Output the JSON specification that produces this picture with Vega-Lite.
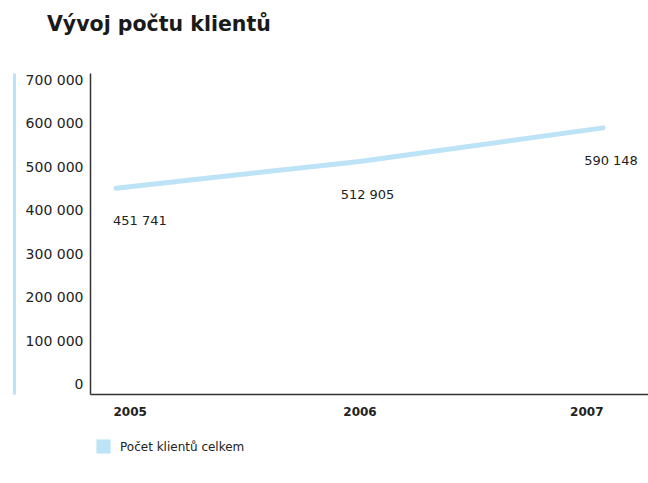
{
  "$schema": "https://vega.github.io/schema/vega-lite/v6.json",
  "width": 558,
  "height": 321,
  "autosize": {"type": "none"},
  "padding": {"left": 90, "top": 73, "right": 0, "bottom": 89},
  "config": {
    "locale": {"number": {"decimal": ",", "thousands": " ", "grouping": [3], "currency": ["", " Kč"]}},
    "view": {"stroke": null},
    "font": "DejaVu Sans"
  },
  "title": {
    "text": "Vývoj počtu klientů",
    "anchor": "start",
    "frame": "group",
    "dx": -43,
    "offset": 38,
    "fontSize": 20.5,
    "fontWeight": "bold",
    "color": "#1a1a1a",
    "font": "DejaVu Sans"
  },
  "data": {
    "values": [
      {"year": 2005, "clients": 451741},
      {"year": 2006, "clients": 512905},
      {"year": 2007, "clients": 590148}
    ]
  },
  "resolve": {"axis": {"y": "independent"}},
  "layer": [
    {
      "mark": {"type": "line", "strokeWidth": 5, "strokeCap": "round"},
      "encoding": {
        "x": {
          "field": "year",
          "type": "quantitative",
          "scale": {"domain": [2004.8932, 2007.1848], "nice": false, "zero": false},
          "axis": {
            "values": [2005, 2006, 2007],
            "format": "d",
            "ticks": false,
            "grid": false,
            "title": null,
            "domainColor": "#333333",
            "domainWidth": 1.5,
            "labelFont": "DejaVu Sans",
            "labelFontWeight": "bold",
            "labelFontSize": 12,
            "labelColor": "#222222",
            "labelPadding": 12,
            "labelBound": false,
            "labelOverlap": false,
            "labelAlign": {"expr": "datum.value == 2005 ? 'left' : datum.value == 2007 ? 'right' : 'center'"},
            "labelOffset": {"expr": "datum.value == 2005 ? -3 : 0"}
          }
        },
        "y": {
          "field": "clients",
          "type": "quantitative",
          "scale": {"domain": [-20656, 716066], "nice": false, "zero": false},
          "axis": {
            "values": [0, 100000, 200000, 300000, 400000, 500000, 600000, 700000],
            "format": ",d",
            "ticks": false,
            "grid": false,
            "title": null,
            "domainColor": "#333333",
            "domainWidth": 1.5,
            "labelFont": "DejaVu Sans",
            "labelFontSize": 14,
            "labelColor": "#222222",
            "labelPadding": 7
          }
        },
        "color": {
          "datum": "Počet klientů celkem",
          "type": "nominal",
          "scale": {"range": ["#bde3f7"]},
          "legend": {
            "orient": "none",
            "legendX": 6,
            "legendY": 366,
            "title": null,
            "symbolType": "square",
            "symbolSize": 200,
            "symbolStrokeWidth": 0,
            "labelFont": "DejaVu Sans",
            "labelFontSize": 12,
            "labelColor": "#222222",
            "labelOffset": 9,
            "encode": {"symbols": {"update": {"fill": {"value": "#bde3f7"}, "stroke": {"value": "transparent"}}}}
          }
        }
      }
    },
    {
      "mark": {
        "type": "text",
        "baseline": "middle",
        "fontSize": 13,
        "color": "#222222",
        "font": "DejaVu Sans",
        "dy": 33,
        "align": {"expr": "datum.year == 2005 ? 'left' : 'center'"},
        "dx": {"expr": "datum.year == 2005 ? -3 : 8"}
      },
      "encoding": {
        "x": {"field": "year", "type": "quantitative"},
        "y": {
          "field": "clients",
          "type": "quantitative",
          "axis": {
            "orient": "left",
            "offset": 76,
            "labels": false,
            "ticks": false,
            "grid": false,
            "title": null,
            "domainColor": "#bde3f7",
            "domainWidth": 3
          }
        },
        "text": {"field": "clients", "type": "quantitative", "format": ",d"}
      }
    }
  ]
}
